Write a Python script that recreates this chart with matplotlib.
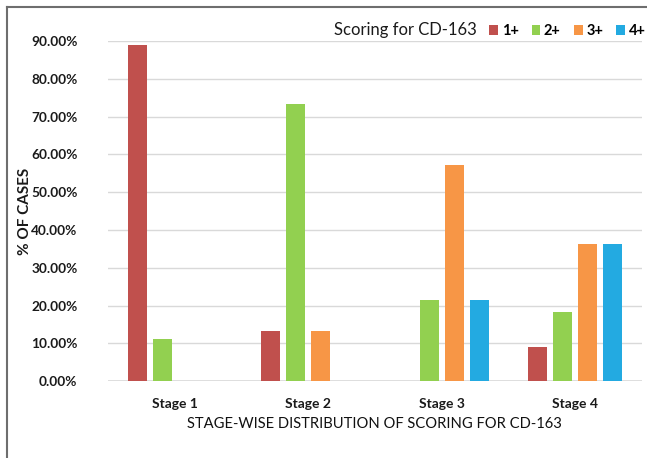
import matplotlib.pyplot as plt
import numpy as np
from matplotlib.lines import Line2D
from matplotlib.patches import Patch

stages = ["Stage 1", "Stage 2", "Stage 3", "Stage 4"]
scores = ["1+", "2+", "3+", "4+"]
score_1 = [88.89, 13.33, 0.0, 9.09]
score_2 = [11.11, 73.33, 21.43, 18.18]
score_3 = [0.0, 13.33, 57.14, 36.36]
score_4 = [0.0, 0.0, 21.43, 36.36]
colors = ["#C0504D", "#92D050", "#F79646", "#23AAE1"]

plt.rcParams['font.family'] = ['Lato', 'DejaVu Sans']

fig = plt.figure(figsize=(6.47, 4.58), dpi=100)
ax = fig.add_axes([0.167, 0.168, 0.825, 0.742])

x = np.arange(len(stages))
width = 0.142
step = 0.188
for i, vals in enumerate([score_1, score_2, score_3, score_4]):
    ax.bar(x + (i - 1.5) * step, np.array(vals) / 100, width=width, color=colors[i], zorder=3)

ax.set_xlim(-0.5, 3.5)
ax.set_ylim(0, 0.9)
ax.set_yticks(np.arange(0, 0.91, 0.1))
ax.set_yticklabels(["{:.2f}%".format(v * 100) for v in np.arange(0, 0.91, 0.1)],
                   fontsize=9.8, fontweight="bold", color="#1a1a1a")
ax.set_xticks(x)
ax.set_xticklabels(stages, fontsize=10, fontweight="bold", color="#1a1a1a")
ax.tick_params(length=0, axis="y", pad=22)
ax.tick_params(length=0, axis="x", pad=12)
ax.grid(axis="y", color="#D9D9D9", linewidth=1, zorder=0)
for s in ax.spines.values():
    s.set_visible(False)
ax.axhline(0, color="#D9D9D9", linewidth=1.2, zorder=2)

ax.set_ylabel("% OF CASES", fontsize=11, fontweight="bold", color="#1a1a1a")
ax.yaxis.set_label_coords(-0.143, 0.5)
ax.set_xlabel("STAGE-WISE DISTRIBUTION OF SCORING FOR CD-163", fontsize=10.6, color="#111111", labelpad=5)

fig.text(0.516, 0.934, "Scoring for CD-163", fontsize=12, color="#1a1a1a", va="center")
handles = [Patch(facecolor=c) for c in colors]
leg = fig.legend(handles, scores, loc="center left", bbox_to_anchor=(0.756, 0.932), ncol=4,
                 frameon=False, handlelength=0.6, handleheight=0.6, handletextpad=0.25,
                 columnspacing=0.9, borderpad=0, borderaxespad=0,
                 prop={"weight": "bold", "size": 10.5})

# grey frame along top and left
fig.add_artist(Line2D([7 / 647, 1], [1 - 7 / 458, 1 - 7 / 458], color="#6e6e6e", linewidth=1.5))
fig.add_artist(Line2D([7 / 647, 7 / 647], [0, 1 - 7 / 458], color="#6e6e6e", linewidth=1.5))

fig.savefig("out.png", dpi=100)
